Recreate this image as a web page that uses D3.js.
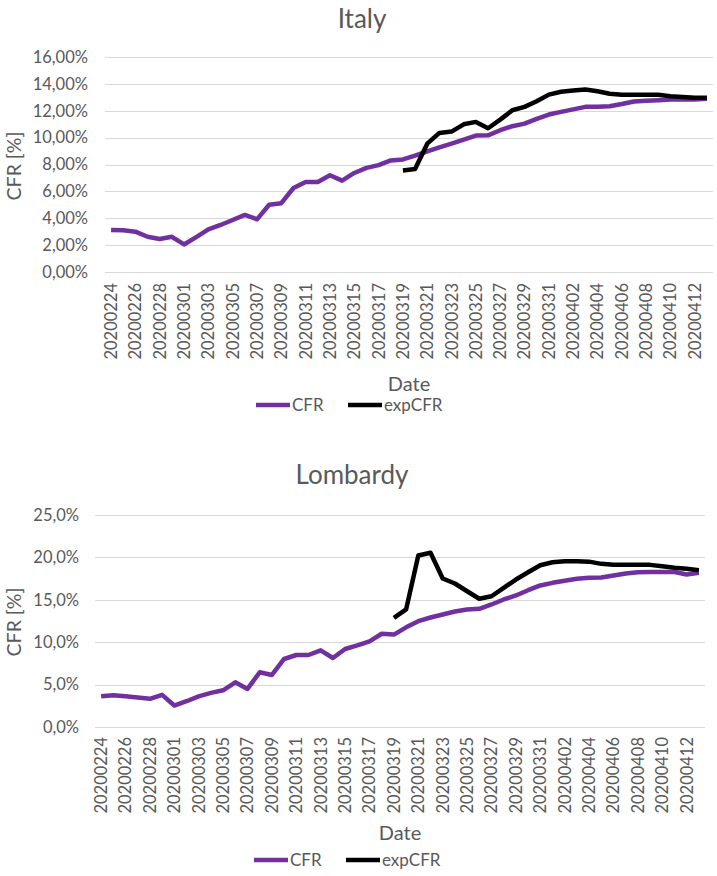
<!DOCTYPE html>
<html>
<head>
<meta charset="utf-8">
<script src="https://cdn.jsdelivr.net/npm/d3@7"></script>
<style>
  html, body { margin: 0; padding: 0; background: #fff; }
  svg { display: block; }
  text { font-family: Lato, "Open Sans", sans-serif; fill: #595959; }
</style>
</head>
<body>
<svg id="chart" width="717" height="876"></svg>
<script>
const dates = ["20200224","20200225","20200226","20200227","20200228","20200229",
  "20200301","20200302","20200303","20200304","20200305","20200306","20200307","20200308","20200309","20200310",
  "20200311","20200312","20200313","20200314","20200315","20200316","20200317","20200318","20200319","20200320",
  "20200321","20200322","20200323","20200324","20200325","20200326","20200327","20200328","20200329","20200330",
  "20200331","20200401","20200402","20200403","20200404","20200405","20200406","20200407","20200408","20200409",
  "20200410","20200411","20200412","20200413"];

const italyCFR = [3.12,3.10,3.00,2.62,2.45,2.62,2.05,2.60,3.17,3.50,3.87,4.25,3.92,5.00,5.12,6.25,6.70,6.70,7.20,6.80,
  7.37,7.75,7.95,8.30,8.38,8.66,8.98,9.28,9.55,9.85,10.15,10.17,10.55,10.85,11.04,11.40,11.72,11.92,12.10,12.29,
  12.29,12.34,12.50,12.69,12.74,12.78,12.84,12.84,12.84,12.90];
const italyExpCFR = [null,null,null,null,null,null,null,null,null,null,null,null,null,null,null,null,null,null,null,null,
  null,null,null,null,7.56,7.66,9.55,10.35,10.45,10.99,11.17,10.70,11.34,12.04,12.29,12.71,13.20,13.41,13.50,13.58,
  13.45,13.26,13.19,13.19,13.19,13.19,13.08,13.03,12.96,12.96];

const lombardyCFR = [3.62,3.74,3.62,3.47,3.32,3.79,2.53,3.04,3.62,4.02,4.33,5.27,4.49,6.45,6.14,8.02,8.49,8.49,9.04,8.14,
  9.20,9.62,10.10,11.00,10.90,11.75,12.48,12.91,13.27,13.62,13.86,13.94,14.45,15.04,15.51,16.13,16.69,17.00,17.24,17.48,
  17.60,17.63,17.87,18.10,18.25,18.27,18.27,18.27,17.98,18.18];
const lombardyExpCFR = [null,null,null,null,null,null,null,null,null,null,null,null,null,null,null,null,null,null,null,null,
  null,null,null,null,12.88,13.86,20.22,20.54,17.51,16.92,16.01,15.12,15.42,16.41,17.39,18.25,19.08,19.43,19.55,19.55,
  19.50,19.24,19.12,19.12,19.12,19.12,18.96,18.77,18.65,18.49];

const italyYTicks = [0,2,4,6,8,10,12,14,16];
const lombardyYTicks = [0,5,10,15,20,25];
const seriesNames = ["CFR","expCFR"];
const seriesColors = ["#7030a0","#000000"];

const svg = d3.select("#chart");

function panel(cfg) {
  const g = svg.append("g");
  const x = d3.scaleBand().domain(dates).range([cfg.left, cfg.right]);
  const y = d3.scaleLinear().domain([0, cfg.yMax]).range([cfg.bottom, cfg.top]);
  const cx = d => x(d) + x.bandwidth() / 2;

  g.append("text").attr("x", cfg.titleX).attr("y", cfg.titleY)
    .attr("text-anchor", "middle").style("font-size", "26px").text(cfg.title);

  g.append("g").selectAll("line").data(cfg.yTicks).join("line")
    .attr("x1", cfg.left).attr("x2", cfg.right)
    .attr("y1", d => Math.round(y(d)) + 0.5).attr("y2", d => Math.round(y(d)) + 0.5)
    .attr("stroke", "#d9d9d9").attr("stroke-width", 1);

  const yAxis = d3.axisLeft(y).tickValues(cfg.yTicks).tickSize(0).tickPadding(0)
    .tickFormat(cfg.fmt);
  const ya = g.append("g").attr("transform", `translate(${cfg.yLabelX},0)`).call(yAxis);
  ya.select(".domain").remove();
  ya.selectAll("text").style("font-size", "16.5px").style("font-family", "Lato, sans-serif").attr("fill", "#595959");

  const xAxis = d3.axisBottom(x).tickValues(dates.filter((d, i) => i % 2 === 0)).tickSize(0).tickPadding(0);
  const xa = g.append("g").attr("transform", `translate(0,${cfg.bottom})`).call(xAxis);
  xa.select(".domain").remove();
  xa.selectAll("text")
    .style("font-size", "16.5px").style("font-family", "Lato, sans-serif").attr("fill", "#595959")
    .attr("text-anchor", "end")
    .attr("transform", "rotate(-90)")
    .attr("x", -cfg.xLabelGap).attr("y", 0).attr("dy", "0.36em");

  g.append("text").attr("transform", `translate(${cfg.yTitleX},${cfg.yTitleY}) rotate(-90)`)
    .attr("text-anchor", "middle").attr("dy", "0.35em").style("font-size", "19.5px").text("CFR [%]");
  g.append("text").attr("x", (cfg.left + cfg.right) / 2).attr("y", cfg.dateY)
    .attr("text-anchor", "middle").attr("dy", "0.35em").style("font-size", "20px").text("Date");

  const line = d3.line().defined(d => d.v != null).x(d => cx(d.date)).y(d => y(d.v));
  [cfg.cfr, cfg.exp].forEach((arr, k) => {
    const pts = dates.map((d, i) => ({date: d, v: arr[i]}));
    g.append("path").datum(pts).attr("d", line)
      .attr("fill", "none").attr("stroke", seriesColors[k]).attr("stroke-width", 4.5)
      .attr("stroke-linejoin", "round").attr("stroke-linecap", "butt");
  });

  const lg = g.append("g");
  const legX = [cfg.legendX, cfg.legendX + 92];
  seriesNames.forEach((n, k) => {
    lg.append("line").attr("x1", legX[k]).attr("x2", legX[k] + 34)
      .attr("y1", cfg.legendY).attr("y2", cfg.legendY)
      .attr("stroke", seriesColors[k]).attr("stroke-width", 4.5);
    lg.append("text").attr("x", legX[k] + 36).attr("y", cfg.legendY).attr("dy", "0.35em")
      .style("font-size", "17px").text(n);
  });
}

panel({
  title: "Italy", titleX: 362, titleY: 28,
  left: 105, right: 713, top: 57, bottom: 272, yMax: 16, yTicks: italyYTicks,
  fmt: d => d.toFixed(2).replace(".", ",") + "%",
  yLabelX: 88, xLabelGap: 11, yTitleX: 14, yTitleY: 166, dateY: 384,
  legendX: 256, legendY: 405,
  cfr: italyCFR, exp: italyExpCFR
});

panel({
  title: "Lombardy", titleX: 352, titleY: 484,
  left: 95, right: 705, top: 515, bottom: 727, yMax: 25, yTicks: lombardyYTicks,
  fmt: d => d.toFixed(1).replace(".", ",") + "%",
  yLabelX: 79, xLabelGap: 10, yTitleX: 14, yTitleY: 622, dateY: 833,
  legendX: 254, legendY: 860,
  cfr: lombardyCFR, exp: lombardyExpCFR
});
</script>
</body>
</html>
